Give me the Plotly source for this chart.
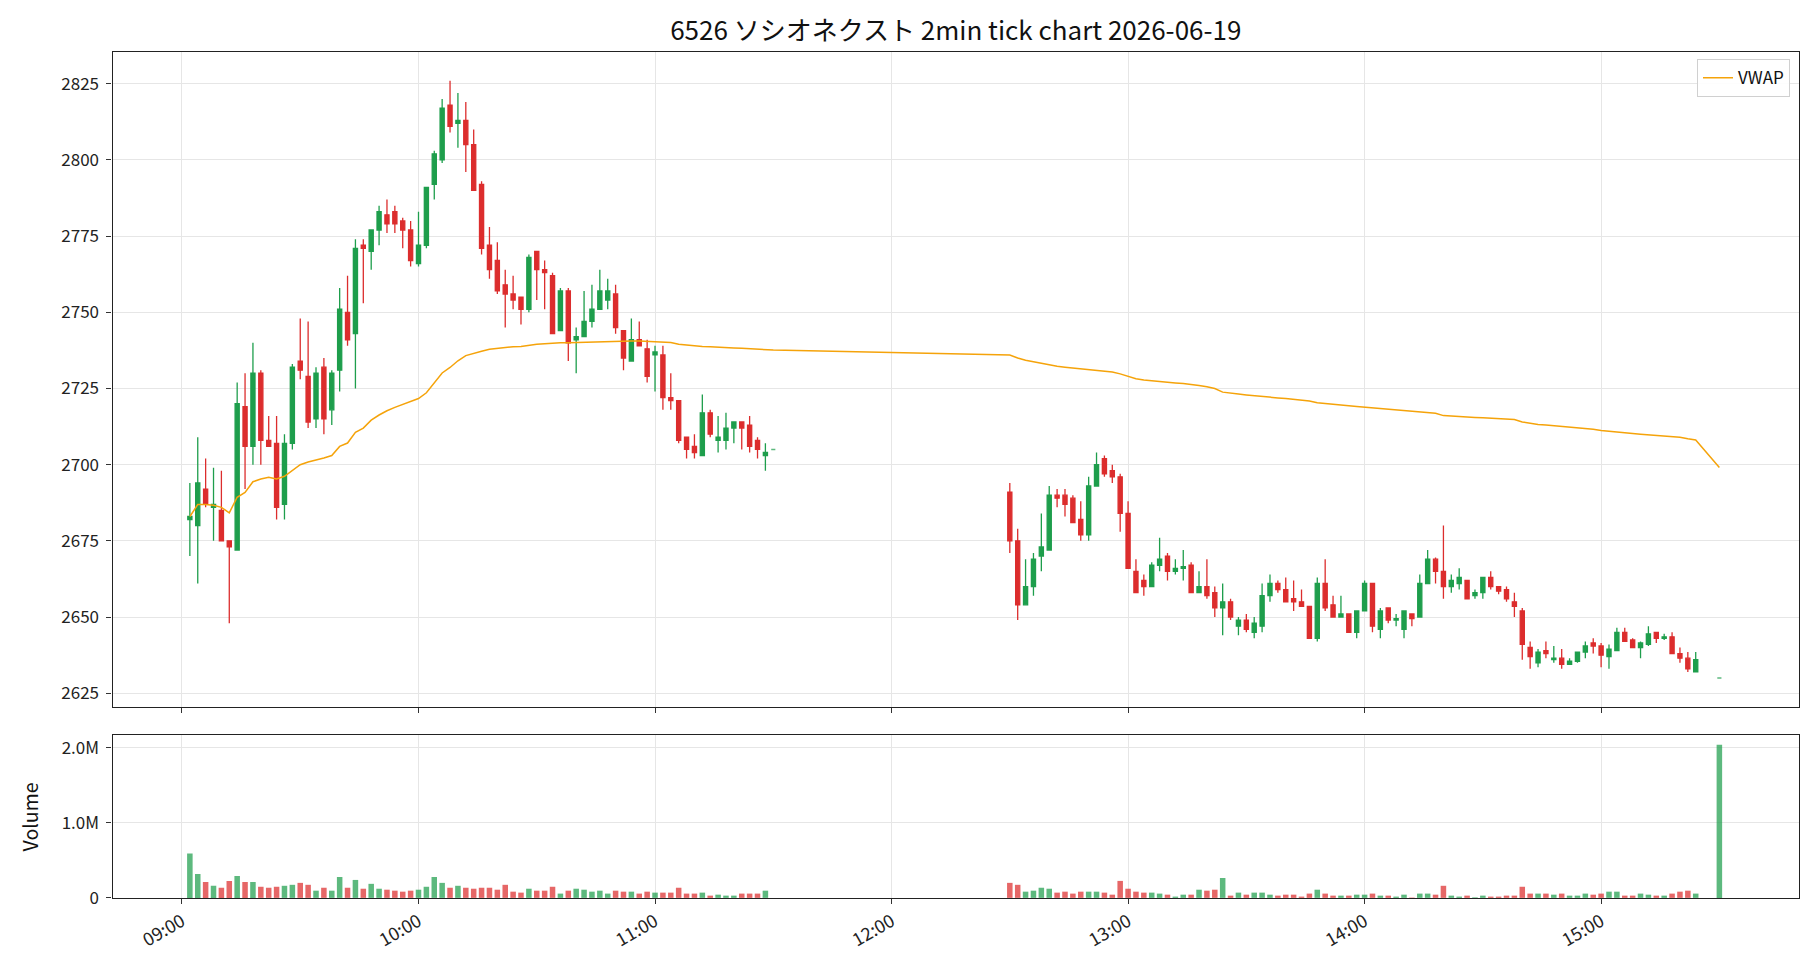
import plotly.graph_objects as go
import pandas as pd

DATE = "2026-06-19"
TITLE = "6526 ソシオネクスト 2min tick chart 2026-06-19"

# ---- morning session 2-min candles (09:02 .. 11:28) ----
am_start, am_end = "09:02", "11:28"
am_open = [2682, 2680, 2692, 2686, 2685, 2675, 2672, 2719, 2706, 2730,
           2708, 2707, 2687, 2707, 2734, 2729, 2715, 2732, 2718, 2731,
           2750, 2743, 2772, 2770, 2777, 2782, 2783, 2780, 2777, 2766,
           2772, 2792, 2800, 2818, 2812, 2813, 2805, 2792, 2772, 2767,
           2759, 2756, 2755, 2751, 2770, 2764, 2762, 2744, 2757, 2741,
           2742, 2747, 2751, 2754, 2756, 2744, 2734, 2741, 2738, 2736,
           2736, 2722, 2721, 2709, 2706, 2703, 2717, 2708, 2708, 2712,
           2714, 2713, 2708, 2703]
am_high = [2694, 2709, 2702, 2699, 2698, 2675, 2727, 2730, 2740, 2731,
           2716, 2716, 2710, 2733, 2748, 2747, 2732, 2735, 2731, 2758,
           2762, 2774, 2774, 2777, 2785, 2787, 2785, 2781, 2780, 2783,
           2791, 2803, 2820, 2826, 2822, 2819, 2810, 2793, 2778, 2773,
           2764, 2762, 2755, 2769, 2770, 2767, 2763, 2758, 2758, 2745,
           2757, 2759, 2764, 2761, 2759, 2744, 2748, 2747, 2741, 2739,
           2739, 2730, 2721, 2709, 2710, 2723, 2718, 2716, 2717, 2714,
           2714, 2716, 2709, 2707]
am_low = [2670, 2661, 2686, 2675, 2675, 2648, 2672, 2692, 2700, 2700,
          2706, 2682, 2682, 2705, 2728, 2712, 2712, 2710, 2713, 2724,
          2739, 2725, 2753, 2764, 2772, 2776, 2776, 2771, 2765, 2765,
          2771, 2787, 2799, 2809, 2804, 2796, 2790, 2769, 2761, 2756,
          2745, 2751, 2746, 2750, 2754, 2751, 2743, 2744, 2734, 2730,
          2742, 2745, 2751, 2751, 2743, 2731, 2734, 2739, 2727, 2724,
          2718, 2718, 2707, 2702, 2702, 2703, 2709, 2704, 2705, 2707,
          2705, 2704, 2702, 2698]
am_close = [2683, 2694, 2687, 2687, 2675, 2673, 2720, 2706, 2730, 2708,
            2706, 2686, 2707, 2732, 2731, 2714, 2730, 2715, 2730, 2751,
            2741, 2771, 2771, 2777, 2783, 2779, 2779, 2777, 2767, 2772,
            2791, 2802, 2817, 2811, 2813, 2805, 2790, 2771, 2764, 2757,
            2756, 2754, 2751, 2768, 2764, 2763, 2743, 2757, 2740, 2742,
            2747, 2751, 2757, 2757, 2745, 2735, 2741, 2739, 2729, 2737,
            2722, 2721, 2708, 2705, 2704, 2717, 2710, 2709, 2712, 2714,
            2712, 2706, 2705, 2704]
am_volume_m = [0.591, 0.317, 0.213, 0.161, 0.135, 0.226, 0.291, 0.213, 0.213, 0.148,
               0.135, 0.148, 0.161, 0.174, 0.200, 0.174, 0.096, 0.135, 0.096, 0.278,
               0.135, 0.239, 0.122, 0.187, 0.122, 0.109, 0.096, 0.083, 0.096, 0.109,
               0.148, 0.278, 0.200, 0.135, 0.161, 0.135, 0.122, 0.135, 0.135, 0.109,
               0.174, 0.083, 0.070, 0.122, 0.096, 0.096, 0.148, 0.057, 0.096, 0.122,
               0.109, 0.083, 0.096, 0.057, 0.096, 0.083, 0.083, 0.057, 0.083, 0.070,
               0.070, 0.070, 0.135, 0.057, 0.057, 0.070, 0.030, 0.043, 0.030, 0.030,
               0.057, 0.057, 0.057, 0.096]
am_vwap = [2683.0, 2686.9, 2686.9, 2686.7, 2686.0, 2684.2, 2689.3, 2690.9, 2694.4, 2695.3,
           2695.9, 2695.3, 2696.2, 2698.0, 2700.0, 2700.9, 2701.5, 2702.2, 2703.0, 2706.0,
           2707.1, 2710.6, 2712.0, 2714.6, 2716.3, 2717.7, 2718.8, 2719.7, 2720.7, 2721.7,
           2723.6, 2727.0, 2730.1, 2731.9, 2734.1, 2735.8, 2736.6, 2737.2, 2737.9, 2738.2,
           2738.4, 2738.7, 2738.8, 2739.2, 2739.5, 2739.7, 2739.9, 2740.0, 2740.0, 2740.1,
           2740.2, 2740.3, 2740.4, 2740.5, 2740.5, 2740.5, 2740.6, 2740.6, 2740.5, 2740.5,
           2740.4, 2740.1, 2739.5, 2739.2, 2739.0, 2738.8, 2738.7, 2738.5, 2738.4, 2738.3,
           2738.2, 2738.0, 2737.8, 2737.6]

# ---- afternoon session 2-min candles (12:30 .. 15:24) ----
pm_start, pm_end = "12:30", "15:24"
pm_open = [2691, 2675, 2654, 2660, 2670, 2672, 2690, 2690, 2689, 2682,
           2677, 2693, 2702, 2698, 2696, 2684, 2665, 2662, 2660, 2667,
           2670, 2665, 2666, 2667, 2658, 2660, 2658, 2653, 2655, 2647,
           2649, 2645, 2647, 2657, 2661, 2659, 2656, 2655, 2653.5, 2643,
           2661, 2654, 2650, 2651, 2645, 2652, 2661, 2646, 2653, 2649,
           2646, 2651, 2650, 2661, 2669, 2665, 2660, 2661, 2662, 2657,
           2658, 2663, 2660, 2659, 2655, 2652, 2640, 2635, 2639, 2636,
           2636.5, 2634.5, 2635.5, 2638.5, 2641.5, 2640.5, 2637, 2639, 2645, 2642.5,
           2640, 2641, 2645, 2643, 2643.5, 2638, 2636.5, 2632]
pm_high = [2694, 2679, 2669, 2671, 2684, 2693, 2692, 2692, 2690, 2688,
           2696, 2704, 2703, 2700, 2697, 2688, 2669, 2664, 2668, 2676,
           2671, 2669, 2672, 2668, 2665, 2669, 2660, 2661, 2656, 2650,
           2651, 2650, 2661, 2664, 2662, 2663, 2662, 2659, 2653.5, 2663,
           2669, 2657, 2657, 2651, 2652, 2662, 2661, 2653, 2653, 2651,
           2652, 2651, 2664, 2672, 2669.5, 2680, 2664, 2666, 2662, 2659,
           2663, 2665, 2660, 2660, 2658, 2653, 2642, 2639.5, 2642, 2640.5,
           2639.5, 2636.5, 2638.5, 2642, 2643, 2641.5, 2641, 2646.5, 2646.5, 2643,
           2642, 2647, 2645, 2644.5, 2645, 2640, 2638.5, 2638.5]
pm_low = [2671, 2649, 2654, 2657, 2665, 2672, 2686, 2683, 2681, 2675,
          2675, 2693, 2696, 2694, 2678, 2666, 2658, 2657, 2660, 2665,
          2662, 2664, 2662, 2658, 2658, 2656, 2650, 2644, 2649, 2644,
          2645, 2643, 2645, 2655, 2658, 2655, 2652, 2653.5, 2643, 2642,
          2652, 2650, 2650, 2645, 2643, 2652, 2645, 2643, 2648, 2647,
          2643, 2647, 2650, 2661, 2661, 2656, 2658, 2659, 2656, 2656,
          2656, 2659, 2657.5, 2655, 2650, 2636, 2633, 2633.5, 2636.5, 2635,
          2633, 2634.5, 2635, 2636.5, 2638, 2633.5, 2633, 2639, 2642, 2640,
          2636.5, 2640.5, 2641.5, 2642.5, 2638, 2635, 2632, 2632]
pm_close = [2675, 2654, 2660, 2669, 2673, 2690, 2689, 2687, 2681, 2677,
            2693, 2700, 2697, 2696, 2684, 2666, 2658, 2660, 2667, 2669,
            2665, 2666, 2666.5, 2658, 2660, 2657, 2653, 2655, 2650, 2649,
            2646, 2648, 2657, 2661, 2659, 2655, 2655, 2653.5, 2643, 2661,
            2653, 2650, 2651, 2645, 2652, 2661, 2647, 2652, 2649, 2649.5,
            2652, 2649.5, 2661, 2669, 2665, 2660, 2662, 2663, 2656, 2658,
            2663, 2660, 2658.5, 2656, 2653.5, 2641, 2637, 2638.5, 2638, 2636.5,
            2634.5, 2635.5, 2638.5, 2640.5, 2640.5, 2637.5, 2639.5, 2645, 2642, 2640,
            2641.5, 2644.5, 2643, 2643.5, 2638, 2636.5, 2633, 2636]
pm_volume_m = [0.200, 0.174, 0.083, 0.096, 0.135, 0.122, 0.070, 0.083, 0.057, 0.083,
               0.083, 0.083, 0.070, 0.043, 0.226, 0.122, 0.083, 0.070, 0.070, 0.057,
               0.043, 0.017, 0.043, 0.043, 0.109, 0.096, 0.109, 0.265, 0.030, 0.070,
               0.043, 0.070, 0.070, 0.043, 0.030, 0.043, 0.043, 0.017, 0.057, 0.109,
               0.057, 0.030, 0.030, 0.030, 0.043, 0.043, 0.057, 0.030, 0.030, 0.017,
               0.043, 0.005, 0.057, 0.057, 0.043, 0.161, 0.030, 0.017, 0.030, 0.008,
               0.030, 0.017, 0.017, 0.030, 0.030, 0.148, 0.057, 0.057, 0.057, 0.043,
               0.057, 0.030, 0.030, 0.057, 0.043, 0.057, 0.083, 0.083, 0.030, 0.030,
               0.057, 0.043, 0.030, 0.030, 0.057, 0.083, 0.096, 0.057]
pm_vwap = [2736.0, 2735.0, 2734.3, 2733.8, 2733.3, 2732.6, 2732.3, 2732.0, 2731.7, 2731.4,
           2731.1, 2730.8, 2730.6, 2730.4, 2729.8, 2728.9, 2728.2, 2727.8, 2727.5, 2727.2,
           2726.9, 2726.8, 2726.6, 2726.4, 2726.0, 2725.6, 2725.0, 2723.8, 2723.6, 2723.2,
           2722.9, 2722.6, 2722.3, 2722.1, 2721.9, 2721.7, 2721.5, 2721.3, 2720.9, 2720.3,
           2720.0, 2719.8, 2719.5, 2719.3, 2719.1, 2718.9, 2718.6, 2718.4, 2718.2, 2718.0,
           2717.8, 2717.6, 2717.4, 2717.1, 2716.9, 2716.1, 2715.9, 2715.8, 2715.6, 2715.5,
           2715.4, 2715.3, 2715.2, 2715.0, 2714.8, 2714.0, 2713.5, 2713.2, 2713.0, 2712.8,
           2712.5, 2712.3, 2712.1, 2711.8, 2711.6, 2711.2, 2710.9, 2710.6, 2710.4, 2710.2,
           2710.0, 2709.8, 2709.7, 2709.6, 2709.4, 2709.0, 2708.5, 2708.1]

# ---- closing auction prints (single price) ----
auc_times = ["11:30", "15:30"]
auc_price = [2705, 2630]
auc_volume_m = [0.0, 2.04]
auc_vwap = [2737.6, 2699.1]

# ---- axis ticks ----
price_ticks = [2625, 2650, 2675, 2700, 2725, 2750, 2775, 2800, 2825]
vol_tickvals_m = [0, 1.0, 2.0]
vol_ticktext = ["0", "1.0M", "2.0M"]
x_ticks = ["09:00", "10:00", "11:00", "12:00", "13:00", "14:00", "15:00"]

GREEN = "#1e9e4c"
RED = "#dc2d2d"
GREEN_A = "rgba(30,158,76,0.72)"
RED_A = "rgba(220,45,45,0.72)"
ORANGE = "#f5a30a"
FONT = "Noto Sans CJK JP"


def ts(hm):
    return pd.Timestamp(f"{DATE} {hm}")


am_t = list(pd.date_range(ts(am_start), ts(am_end), freq="2min"))
pm_t = list(pd.date_range(ts(pm_start), ts(pm_end), freq="2min"))
auc_t = [ts(t) for t in auc_times]

c_t = am_t + pm_t
c_o = am_open + pm_open
c_h = am_high + pm_high
c_l = am_low + pm_low
c_c = am_close + pm_close

all_t = am_t + [auc_t[0]] + pm_t + [auc_t[1]]
all_vol = [v * 1e6 for v in am_volume_m + [auc_volume_m[0]] + pm_volume_m + [auc_volume_m[1]]]
all_up = ([c >= o for o, c in zip(am_open, am_close)] + [True]
          + [c >= o for o, c in zip(pm_open, pm_close)] + [True])
all_vwap = am_vwap + [auc_vwap[0]] + pm_vwap + [auc_vwap[1]]

fig = go.Figure()

fig.add_trace(go.Candlestick(
    x=c_t, open=c_o, high=c_h, low=c_l, close=c_c,
    increasing=dict(line=dict(color=GREEN, width=1.3), fillcolor=GREEN),
    decreasing=dict(line=dict(color=RED, width=1.3), fillcolor=RED),
    whiskerwidth=0, showlegend=False, hoverinfo="skip",
    xaxis="x", yaxis="y",
))
fig.add_trace(go.Candlestick(
    x=auc_t, open=auc_price, high=auc_price, low=auc_price, close=auc_price,
    increasing=dict(line=dict(color=GREEN_A, width=1.6), fillcolor=GREEN_A),
    decreasing=dict(line=dict(color=GREEN_A, width=1.6), fillcolor=GREEN_A),
    whiskerwidth=0, showlegend=False, hoverinfo="skip",
    xaxis="x", yaxis="y",
))
fig.add_trace(go.Scatter(
    x=all_t, y=all_vwap, mode="lines", name="VWAP",
    line=dict(color=ORANGE, width=1.5), xaxis="x", yaxis="y",
))
fig.add_trace(go.Bar(
    x=all_t, y=all_vol, width=84000,
    marker=dict(color=[GREEN_A if u else RED_A for u in all_up], line=dict(width=0)),
    showlegend=False, hoverinfo="skip", xaxis="x2", yaxis="y2",
))

W, H = 1820, 980
ax_l, ax_r = 112.6, 1799.0
p_top, p_bot = 52.0, 715.0
v_top, v_bot = 743.0, 908.0

xr = [f"{DATE} 08:42:24", f"{DATE} 15:50:12"]
grid = "#e6e6e6"
axis_common = dict(showline=True, linecolor="#222", linewidth=1.3, mirror=True,
                   ticks="outside", ticklen=5, tickwidth=1.2, tickcolor="#333",
                   gridcolor=grid, gridwidth=1, zeroline=False)
yfont = dict(family=FONT, size=17, color="#222")
xfont = dict(family=FONT, size=18, color="#222")

fig.update_layout(
    width=W, height=H, autosize=False,
    margin=dict(l=0, r=0, t=0, b=0),
    paper_bgcolor="white", plot_bgcolor="white",
    font=dict(family=FONT, size=17, color="#222"),
    boxgap=0.25,
    title=dict(text=TITLE, x=(ax_l + ax_r) / 2 / W, xanchor="center",
               y=1 - 31 / H, yanchor="middle",
               font=dict(family=FONT, size=26, color="#111")),
    showlegend=True,
    legend=dict(x=1790 / W, xanchor="right", y=1 - 59 / H, yanchor="top",
                bgcolor="rgba(255,255,255,0.9)", bordercolor="#d0d0d0", borderwidth=1,
                font=dict(family=FONT, size=17, color="#111"),
                itemwidth=30, tracegroupgap=0),
    xaxis=dict(domain=[ax_l / W, ax_r / W], anchor="y", type="date", range=xr,
               tickvals=[ts(t) for t in x_ticks], showticklabels=False,
               rangeslider=dict(visible=False), tickfont=xfont, **axis_common),
    yaxis=dict(domain=[1 - p_bot / H, 1 - p_top / H], anchor="x",
               range=[2620.4, 2835.3], tickvals=price_ticks,
               ticklabelstandoff=4, tickfont=yfont, **axis_common),
    xaxis2=dict(domain=[ax_l / W, ax_r / W], anchor="y2", type="date", range=xr,
                tickvals=[ts(t) for t in x_ticks], ticktext=x_ticks,
                tickangle=-30, matches="x", tickfont=xfont, **axis_common),
    yaxis2=dict(domain=[1 - v_bot / H, 1 - v_top / H], anchor="x2",
                range=[0, 2.17e6], tickvals=[v * 1e6 for v in vol_tickvals_m],
                ticktext=vol_ticktext, ticklabelstandoff=4, tickfont=yfont, **axis_common),
    annotations=[dict(text="Volume", x=29 / W, y=1 - (v_top + v_bot) / 2 / H,
                      xref="paper", yref="paper", textangle=-90, showarrow=False,
                      xanchor="center", yanchor="middle",
                      font=dict(family=FONT, size=19.5, color="#111"))],
)

fig.write_html("out.html")
